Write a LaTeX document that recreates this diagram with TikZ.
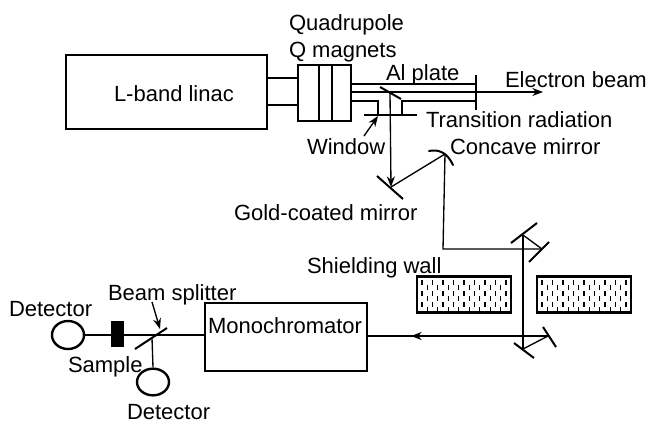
\documentclass[tikz,border=0pt]{standalone}
\usepackage{fontspec}
\setmainfont{Liberation Sans}
\usetikzlibrary{arrows.meta,shapes.geometric}
\tikzset{
  x=0.75pt,y=-0.75pt,
  lbl/.style={anchor=base west,inner sep=0pt,outer sep=0pt,font=\fontsize{16.5}{18}\selectfont,text=black},
  heavy/.style={draw=black,line width=1.8pt},
  medium/.style={draw=black,line width=1.5pt},
  beam/.style={draw=black,line width=1pt},
  tip/.style={-{Stealth[length=8pt,width=6pt]}},
  wallbox/.style={draw=black,line width=2.2pt,fill=white,minimum width=70.5pt,minimum height=27pt,inner sep=0pt},
  plainbox/.style={draw=black,line width=1.9pt,inner sep=0pt},
  detector/.style={ellipse,draw=black,line width=1.8pt,inner sep=0pt},
}
\begin{document}
\begin{tikzpicture}
\useasboundingbox (0,0) rectangle (648,422);
% boxes
\node[plainbox,minimum width=150.75pt,minimum height=55.5pt] (linac) at (166.5,92) {};
\node[plainbox,minimum width=39.75pt,minimum height=42pt] (quad) at (324.5,93) {};
\node[plainbox,minimum width=121.5pt,minimum height=51pt] (mono) at (286,337) {};
\node[wallbox] (wallL) at (464,294.5) {};
\node[wallbox] (wallR) at (584,294.5) {};
\node[detector,minimum width=24pt,minimum height=21pt] (detL) at (68,335) {};
\node[detector,minimum width=24pt,minimum height=20pt] (detB) at (153,382) {};
\node[draw=none,fill=black,minimum width=9.5pt,minimum height=19.5pt,inner sep=0pt] (sample) at (117.5,334) {};
% wall pattern
\foreach \w in {416,536}{
  \foreach \i in {0,...,16}{
    \foreach \j in {0,1,2}{
      \pgfmathsetmacro{\off}{mod(\i,2)*5}
      \draw[black,line width=1pt] ({\w+6+\i*5.25},{280+\j*11+\off}) -- ++(0,5);
    }
  }
}
% linac to quadrupole
\draw[heavy] (quad.west |- 0,78) -- (linac.east |- 0,78);
\draw[heavy] (quad.west |- 0,105) -- (linac.east |- 0,105);
% quadrupole dividers
\draw[medium] (318.5,65) -- (318.5,121);
\draw[medium] (332,65) -- (332,121);
% coordinates of the vacuum chamber and optics
\coordinate (endT) at (476,75);
\coordinate (endB) at (476,110);
\coordinate (out) at (543,92);
\coordinate (winL) at (364,115);
\coordinate (winR) at (417,115);
\coordinate (alA) at (380,87);
\coordinate (alB) at (401,99);
\coordinate (alC) at (390,93);
\coordinate (goldA) at (377,176);
\coordinate (goldB) at (403,199);
\coordinate (goldC) at (391,187);
\coordinate (cavC) at (445,154);
\coordinate (cavT) at (443,249);
\coordinate (m1C) at (523,235);
\coordinate (m2C) at (542,249);
\coordinate (m3C) at (523,349);
\coordinate (m4C) at (548,336);
% chamber
\draw[heavy] (352,84) -- (476,84);
\draw[medium] (352,101) -- (378,101) -- (378,115);
\draw[medium] (402,115) -- (402,101) -- (476,101);
\draw[beam] (352,92) -- (476,92);
\draw[heavy] (endT) -- (endB);
\draw[beam,tip] (476,92) -- (out);
\draw[heavy] (winL) -- (winR);
\draw[medium] (alA) -- (alB);
% window arrow
\coordinate (winLblEnd) at (364,136);
\coordinate (winTip) at (378,116);
\draw[beam,tip] (winLblEnd) -- (winTip);
% optical path
\draw[beam,tip] (alC) -- (goldC);
\draw[medium] (goldA) -- (goldB);
\draw[beam] (goldC) -- (cavC);
\draw[medium,line cap=round] (429,151) .. controls (438,149) and (447,152) .. (453,165);
\draw[beam] (cavC) -- (cavT) -- (m2C);
\draw[medium] (529,262) -- (549,242);
\draw[medium] (511,243) -- (537,223);
\draw[beam] (m2C) -- (m1C);
\draw[beam] (m1C) -- (m3C);
\draw[medium] (514,343) -- (534,358);
\draw[medium] (543,327) -- (556,347);
\draw[beam] (m3C) -- (m4C);
\draw[beam] (m4C) -- (mono.east |- m4C);
\draw[black,-{Stealth[length=8pt,width=6pt]},line width=1pt] (425,336) -- (411,336);
% bottom line
\draw[beam] (mono.west |- detL.east) -- (detL.east);
\coordinate (split) at (152,338);
\draw[medium] (135,349) -- (167,328);
\draw[beam] (split) -- (detB.north);
\coordinate (bsLbl) at (152,302);
\coordinate (bsTip) at (160,329);
\draw[beam,tip] (bsLbl) -- (bsTip);
% labels
\node[lbl] (tLinac) at (114,101) {L-band linac};
\node[lbl] (tQuad) at (289,30) {Quadrupole};
\node[lbl] (tQ) at (289,57) {Q magnets};
\node[lbl] (tAl) at (386,80) {Al plate};
\node[lbl] (tEb) at (505,87) {Electron beam};
\node[lbl] (tTr) at (426,127) {Transition radiation};
\node[lbl] (tWin) at (307,154) {Window};
\node[lbl] (tCm) at (450,154) {Concave mirror};
\node[lbl] (tGm) at (234,220) {Gold-coated mirror};
\node[lbl] (tSw) at (307,273) {Shielding wall};
\node[lbl] (tBs) at (108,300) {Beam splitter};
\node[lbl] (tDet) at (9,316) {Detector};
\node[lbl] (tMono) at (208,333) {Monochromator};
\node[lbl] (tSample) at (68,372) {Sample};
\node[lbl] (tDet2) at (127,419) {Detector};
\end{tikzpicture}
\end{document}
